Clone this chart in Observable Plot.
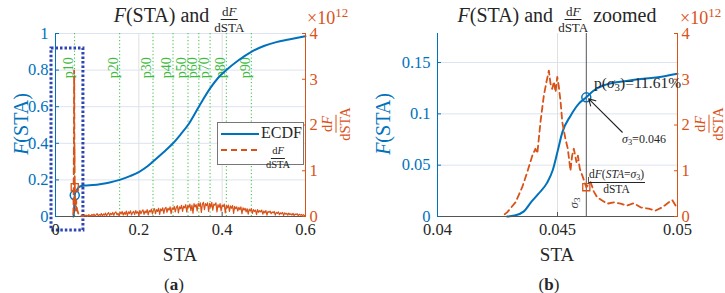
<!DOCTYPE html>
<html><head><meta charset="utf-8">
<script src="https://cdn.jsdelivr.net/npm/d3@7"></script>
<script src="https://cdn.jsdelivr.net/npm/@observablehq/plot@0.6"></script>
<style>
body{margin:0;background:#fff;font-family:"Liberation Serif",serif;color:#262626}
#root{position:relative;width:725px;height:293px;overflow:hidden}
.abs{position:absolute;white-space:nowrap;line-height:1}
.frac{display:inline-flex;flex-direction:column;align-items:center;line-height:1}
.frac .num{border-bottom:1px solid currentColor;padding:0 1px 1px}
.frac .den{padding-top:1px}
.panel svg.plot{position:absolute;left:0;top:0;overflow:visible}
sub{font-size:0.7em;vertical-align:-0.25em;line-height:0}
sup{font-size:0.72em;vertical-align:0.55em;line-height:0}
</style></head><body><div id="root"></div>
<script>
const BLUE = "#0072BD", ORANGE = "#D95319", GREEN = "#3dbb3d", BOXC = "#2e45b0", INK = "#262626";
const SERIF = "Liberation Serif";
const SERIF_CSS = "'Liberation Serif', 'Times New Roman', Times, serif";

// ---- data ----
const sigma3 = 0.0462, pSigma3 = 0.1161, dfSigma3 = 0.64; // dF in units of 1e12

const ecdfZoomSTA = [0.0429,0.0432,0.0436,0.0439,0.0442,0.04457,0.0448,0.045,0.0452,0.04554,0.04589,0.0462,0.0465,0.0469,0.048,0.0494,0.05];
const ecdfZoomF   = [0,0.001,0.005,0.014,0.022,0.033,0.045,0.063,0.082,0.098,0.11,0.1162,0.1225,0.1276,0.1325,0.1364,0.139];

const ecdfWideSTA = [0.052,0.055,0.06,0.07,0.09,0.11,0.13,0.154,0.18,0.2,0.22,0.234,0.26,0.282,0.3,0.318,0.344,0.371,0.39,0.41,0.44,0.47,0.5,0.53,0.56,0.6];
const ecdfWideF   = [0.148,0.158,0.165,0.169,0.172,0.178,0.186,0.2,0.222,0.243,0.273,0.3,0.352,0.4,0.448,0.5,0.6,0.7,0.757,0.8,0.855,0.9,0.932,0.953,0.967,0.985];

const dfZoomSTA = [0.0428,0.0429,0.04325,0.04353,0.04374,0.04395,0.04408,0.04416,0.04429,0.04443,0.04454,0.04464,0.04471,0.04478,0.04485,0.04492,0.04499,0.04505,0.04513,0.0452,0.04533,0.04543,0.04554,0.04561,0.04568,0.04579,0.04585,0.04593,0.04603,0.0462,0.04638,0.04651,0.04665,0.04686,0.04707,0.04735,0.04763,0.0479,0.04818,0.04846,0.0488,0.04908,0.04936,0.04964,0.04978,0.04992];
const dfZoomVal = [0.05,0.09,0.31,0.64,0.97,1.33,1.48,1.38,2.06,2.64,2.94,3.19,2.9,2.79,2.95,2.72,3.05,2.86,2.5,2.06,1.7,1.48,1.0,1.33,1.48,1.19,1.33,1.04,0.9,0.64,0.75,0.55,0.42,0.35,0.28,0.31,0.28,0.24,0.29,0.2,0.17,0.13,0.2,0.31,0.36,0.24];

const dfTailSTA = [0.0505,0.052,0.055,0.06,0.065];
const dfTailVal = [0.22,0.15,0.06,0.02,0.01];

// noisy dF band, sampled every 0.0025 from 0.065 to 0.6 (units of 1e12)
const bandStart = 0.065, bandStep = 0.0025;
const dfBandVal = [
 .02,.005,.035,.012,.028,.004,.04,.018,.01,.045,
 .02,.05,.008,.038,.06,.015,.042,.025,.065,.01,
 .055,.03,.075,.012,.06,.085,.02,.07,.04,.09,
 .025,.08,.1,.035,.07,.015,.095,.055,.11,.03,
 .09,.045,.12,.02,.1,.065,.125,.035,.085,.11,
 .04,.13,.07,.105,.025,.135,.06,.115,.145,.045,
 .12,.08,.15,.035,.13,.1,.16,.055,.14,.17,
 .06,.15,.11,.18,.045,.165,.125,.19,.07,.17,
 .2,.09,.18,.14,.21,.06,.19,.155,.22,.1,
 .2,.235,.08,.21,.17,.245,.11,.225,.19,.26,
 .1,.24,.2,.27,.13,.25,.075,.28,.21,.26,
 .12,.29,.22,.3,.09,.27,.31,.15,.28,.24,
 .3,.11,.29,.2,.31,.14,.27,.25,.3,.1,
 .26,.2,.28,.12,.25,.22,.27,.08,.24,.19,
 .25,.11,.23,.18,.24,.07,.22,.17,.21,.12,
 .2,.15,.21,.06,.19,.14,.18,.1,.17,.05,
 .16,.12,.17,.07,.15,.11,.14,.04,.15,.09,
 .13,.1,.14,.05,.12,.08,.13,.03,.11,.09,
 .12,.06,.1,.08,.11,.03,.09,.07,.1,.04,
 .08,.06,.09,.02,.08,.05,.07,.03,.075,.04,
 .06,.03,.07,.02,.055,.04,.06,.015,.05,.03,
 .045,.02,.04,.015,.03];

const pctLabels = ["p10","p20","p30","p40","p50","p60","p70","p80","p90"];
const pctSTA    = [0.0458,0.154,0.234,0.282,0.318,0.344,0.371,0.410,0.470];

const xTicksA = [0,0.2,0.4,0.6], yTicksA = [0,0.2,0.4,0.6,0.8,1];
const xTicksB = [0.04,0.045,0.05], yTicksB = [0,0.05,0.1,0.15];
const rTicks = [0,1,2,3,4];
const zoomBox = [{x1:-0.0096, x2:0.067, y1:-0.0765, y2:0.918}];
const arrowB = [{x1:0.0477, y1:0.0821, x2:0.0463, y2:0.1146}];

// ---- tables ----
const ecdfZoom = ecdfZoomSTA.map((x,i)=>({x, y:ecdfZoomF[i]}));
const ecdfAll = ecdfZoom.concat(ecdfWideSTA.map((x,i)=>({x, y:ecdfWideF[i]})));
const dfZoom = dfZoomSTA.map((x,i)=>({x, y:dfZoomVal[i]}));
const dfSpike = dfZoom.concat(dfTailSTA.map((x,i)=>({x, y:dfTailVal[i]})));
const dfBand = dfBandVal.map((y,i)=>({x: bandStart + i*bandStep, y}));
const sigmaPt = [{x:sigma3, y:pSigma3}], sigmaDf = [{x:sigma3, y:dfSigma3}];

const fmt = d => String(d);
const root = document.getElementById("root");

function serifize(svg) {
  svg.setAttribute("font-family", SERIF_CSS);
  svg.style.setProperty("font-family", SERIF_CSS, "important");
  svg.querySelectorAll("g, text, tspan").forEach(el => {
    if (el.hasAttribute("font-family")) el.setAttribute("font-family", SERIF_CSS);
    el.style.setProperty("font-family", SERIF_CSS, "important");
  });
}

function panel({left, width, mL, mR, xDomain, yDomain, xTicks, yTicks, xGrid, yGrid, leftMarks, rightMarks}) {
  const div = document.createElement("div");
  div.className = "panel";
  div.style.cssText = `position:absolute;left:${left}px;top:0;width:${width}px;height:293px`;
  const common = {width, height:293, marginLeft:mL, marginRight:mR, marginTop:33, marginBottom:77,
    style:"font-family:'Liberation Serif',serif;font-size:16px;background:transparent;overflow:visible"};
  const ax = {fontFamily:SERIF, fontSize:16.5, label:null, tickFormat:fmt, fontVariant:"normal"};
  const p1 = Plot.plot({...common,
    x:{domain:xDomain}, y:{domain:yDomain},
    marks:[
      Plot.ruleY(yGrid, {stroke:"#dde4ef"}),
      Plot.ruleX(xGrid, {stroke:"#e0e0e0"}),
      ...leftMarks,
      Plot.ruleY([yDomain[0]], {stroke:"#555"}),
      Plot.axisX(xTicks, {...ax, tickSize:-4, tickPadding:11, fill:INK, stroke:"#555"}),
      Plot.axisY(yTicks, {...ax, anchor:"left", tickSize:-4, tickPadding:11, fill:BLUE, stroke:BLUE}),
      Plot.ruleX([xDomain[0]], {stroke:BLUE})
    ]});
  const p2 = Plot.plot({...common,
    x:{domain:xDomain, axis:null}, y:{domain:[0,4]},
    marks:[
      ...rightMarks,
      Plot.axisY(rTicks, {...ax, anchor:"right", tickSize:-4, tickPadding:8, fill:ORANGE, stroke:ORANGE}),
      Plot.ruleX([xDomain[1]], {stroke:ORANGE})
    ]});
  for (const p of [p1, p2]) { p.classList.add("plot"); serifize(p); div.appendChild(p); }
  root.appendChild(div);
}

panel({left:0, width:362, mL:55, mR:57, xDomain:[0,0.6], yDomain:[0,1],
  xTicks:xTicksA, yTicks:yTicksA, xGrid:[0.2,0.4], yGrid:[0.2,0.4,0.6,0.8,1],
  leftMarks:[
    Plot.ruleX(pctSTA, {stroke:GREEN, strokeWidth:1, strokeDasharray:"1.2,2.3"}),
    Plot.text(pctLabels, {x:(d,i)=>pctSTA[i], y:0.755, text:d=>d, rotate:-90, textAnchor:"start", dx:-6, fill:GREEN, fontSize:14, fontFamily:SERIF}),
    Plot.line(ecdfAll, {x:"x", y:"y", stroke:BLUE, strokeWidth:2, curve:"monotone-x"}),
    Plot.dot(sigmaPt, {x:"x", y:"y", r:4.5, stroke:BLUE, strokeWidth:1.5, fill:"none"}),
    Plot.rect(zoomBox, {x1:"x1", x2:"x2", y1:"y1", y2:"y2", fill:"none", stroke:BOXC, strokeWidth:3, strokeDasharray:"2.5,2"})
  ],
  rightMarks:[
    Plot.line(dfBand, {x:"x", y:"y", stroke:ORANGE, strokeWidth:1.2}),
    Plot.line(dfSpike, {x:"x", y:"y", stroke:ORANGE, strokeWidth:1.8, strokeDasharray:"6,4"}),
    Plot.dot(sigmaDf, {x:"x", y:"y", r:4, symbol:"square", stroke:ORANGE, strokeWidth:1.3, fill:"none"})
  ]});

panel({left:362, width:363, mL:75, mR:48, xDomain:[0.04,0.05], yDomain:[0,0.1783],
  xTicks:xTicksB, yTicks:yTicksB, xGrid:[0.045], yGrid:[0.05,0.1,0.15],
  leftMarks:[
    Plot.ruleX([sigma3], {stroke:"#555", strokeWidth:1}),
    Plot.line(ecdfZoom, {x:"x", y:"y", stroke:BLUE, strokeWidth:2, curve:"monotone-x"}),
    Plot.dot(sigmaPt, {x:"x", y:"y", r:4.5, stroke:BLUE, strokeWidth:1.5, fill:"none"}),
    Plot.arrow(arrowB, {x1:"x1", y1:"y1", x2:"x2", y2:"y2", stroke:"#222", strokeWidth:1.1, headLength:10})
  ],
  rightMarks:[
    Plot.line(dfZoom, {x:"x", y:"y", stroke:ORANGE, strokeWidth:1.8, strokeDasharray:"6,4"}),
    Plot.dot(sigmaDf, {x:"x", y:"y", r:4, symbol:"square", stroke:ORANGE, strokeWidth:1.3, fill:"none"})
  ]});

// ---- text overlays ----
function add(html, css) {
  const d = document.createElement("div");
  d.className = "abs"; d.style.cssText = css; d.innerHTML = html;
  root.appendChild(d); return d;
}
const frac = (n, dd, fs) => `<span class="frac" style="font-size:${fs}px"><span class="num">${n}</span><span class="den">${dd}</span></span>`;

// titles
add(`<span><i>F</i>(STA) and&nbsp;</span><span style="position:relative;top:2px">${frac("d<i>F</i>","dSTA",13)}</span>`,
  `left:179px;top:0;height:29px;transform:translateX(-50%);display:flex;align-items:center;font-size:20px;color:${INK}`);
add(`<span><i>F</i>(STA) and&nbsp;</span><span style="position:relative;top:2px">${frac("d<i>F</i>","dSTA",13)}</span><span>&nbsp;zoomed</span>`,
  `left:557px;top:0;height:29px;transform:translateX(-50%);display:flex;align-items:center;font-size:20px;color:${INK}`);

// left y labels
add(`<i>F</i>(STA)`, `left:21px;top:124px;transform:translate(-50%,-50%) rotate(-90deg);font-size:20px;color:${BLUE}`);
add(`<i>F</i>(STA)`, `left:383px;top:124px;transform:translate(-50%,-50%) rotate(-90deg);font-size:20px;color:${BLUE}`);
// right y labels
add(frac("d<i>F</i>","dSTA",14.5), `left:335px;top:124px;transform:translate(-50%,-50%) rotate(-90deg);color:${ORANGE}`);
add(frac("d<i>F</i>","dSTA",14.5), `left:708px;top:124px;transform:translate(-50%,-50%) rotate(-90deg);color:${ORANGE}`);
// exponent
add(`×10<sup>12</sup>`, `left:307px;top:9px;font-size:18px;color:${ORANGE}`);
add(`×10<sup>12</sup>`, `left:680px;top:9px;font-size:18px;color:${ORANGE}`);
// x labels
add(`STA`, `left:180px;top:245px;transform:translateX(-50%);font-size:19px;color:${INK}`);
add(`STA`, `left:557px;top:245px;transform:translateX(-50%);font-size:19px;color:${INK}`);
add(`(<b>a</b>)`, `left:174px;top:276px;transform:translateX(-50%);font-size:17px;color:${INK}`);
add(`(<b>b</b>)`, `left:549px;top:276px;transform:translateX(-50%);font-size:17px;color:${INK}`);

// legend
add(`<svg width="40" height="34" style="position:absolute;left:2px;top:2px">
  <line x1="1" x2="39" y1="9" y2="9" stroke="${BLUE}" stroke-width="2"/>
  <line x1="1" x2="39" y1="25" y2="25" stroke="${ORANGE}" stroke-width="2" stroke-dasharray="6,4"/></svg>
  <div style="position:absolute;left:43px;top:2px;font-size:16px">ECDF</div>
  <div style="position:absolute;left:60px;top:18px;transform:translateX(-50%)">${frac("d<i>F</i>","dSTA",10.5)}</div>`,
  `left:217px;top:122px;width:85px;height:41px;background:#fff;border:1px solid #777;color:${INK}`);

// annotations panel b
add(`p(<i>σ</i><sub>3</sub>)=11.61%`, `left:594px;top:75px;font-size:15.5px;color:${INK}`);
add(`<i>σ</i><sub>3</sub>=0.046`, `left:622px;top:133px;font-size:12px;color:${INK}`);
add(frac("d<i>F</i>(<i>STA</i>=<i>σ</i><sub>3</sub>)","dSTA",11.5), `left:588px;top:165px;color:${INK}`);
add(``, `left:588px;top:177px;width:0;height:7px;border-left:1px solid #555`);
add(`<i>σ</i><sub>3</sub>`, `left:573px;top:203px;transform:translate(-50%,-50%) rotate(-90deg);font-size:13px;color:#444`);
</script></body></html>
